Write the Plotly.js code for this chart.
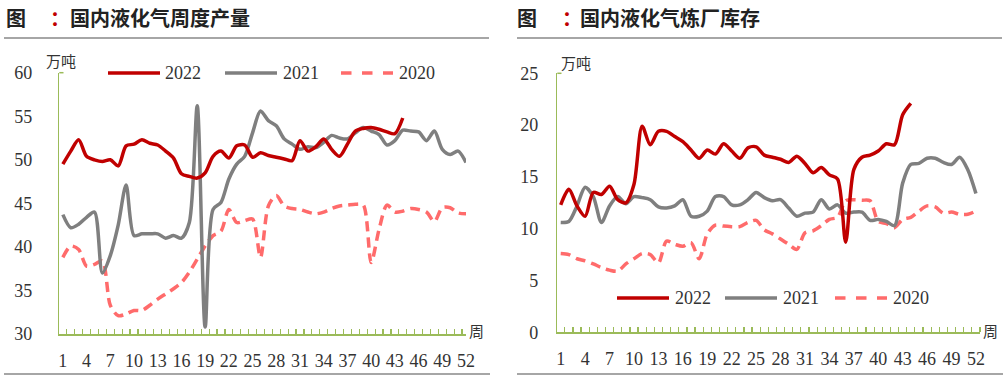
<!DOCTYPE html>
<html><head><meta charset="utf-8">
<script src="https://cdn.plot.ly/plotly-3.0.1.min.js"></script>
<style>body{margin:0;background:#fff}#c{width:1006px;height:380px}</style>
</head><body><div id="c"></div>
<script>
const weeks = Array.from({length:52},(_,i)=>i+1);
const tickWeeks = [1,4,7,10,13,16,19,22,25,28,31,34,37,40,43,46,49,52];
const seriesNames = ['2022','2021','2020'];

const prod2022 = [49.5,51.0,52.3,50.4,50.0,49.8,50.0,49.3,51.6,51.8, 52.3,51.9,51.7,51.0,50.2,48.4,48.1,47.9,48.5,50.4, 51.0,50.2,51.6,51.7,50.3,50.8,50.5,50.3,50.1,49.9, 52.2,51.0,51.5,52.4,51.2,50.4,51.8,53.3,53.6,53.7, 53.5,53.2,53.0,54.8];
const prod2021 = [43.7,42.2,42.6,43.4,44.0,37.0,39.0,42.5,47.1,41.3, 41.5,41.5,41.5,41.0,41.3,41.0,42.8,56.2,30.8,44.3, 45.1,47.8,49.5,50.4,53.1,55.6,54.5,53.9,52.4,51.8, 51.2,51.5,51.4,52.0,52.8,52.5,52.4,53.1,53.7,53.3, 52.9,51.7,52.2,53.4,53.3,53.2,52.2,53.3,51.2,50.6, 51.0,49.7];
const prod2020 = [38.8,40.1,39.7,37.8,38.0,38.4,33.3,32.1,32.3,32.7, 32.7,33.3,34.0,34.6,35.2,35.9,37.1,38.6,40.1,41.3, 41.8,44.3,42.8,43.0,43.2,38.8,44.7,45.9,44.7,44.4, 44.3,44.0,43.8,44.0,44.4,44.7,44.8,44.9,44.8,38.2, 42.0,44.8,44.0,44.1,44.4,44.3,44.0,42.9,44.5,44.5, 43.9,43.8];

const inv2022 = [12.3,13.8,12.2,11.2,13.5,13.3,14.1,12.8,12.5,14.3, 19.9,18.1,19.4,19.4,18.9,18.4,17.6,16.8,17.6,17.2, 18.2,17.5,16.8,17.8,17.9,17.1,16.9,16.7,16.4,17.0, 16.3,15.4,15.9,15.2,14.8,8.7,15.7,16.9,17.1,17.5, 18.2,18.1,21.0,22.1];
const inv2021 = [10.6,10.7,12.2,14.0,13.1,10.6,12.2,13.1,12.4,13.1, 13.0,12.8,12.1,12.0,12.2,12.8,11.2,11.2,11.7,13.1, 13.1,12.3,12.3,12.8,13.5,13.0,12.7,12.8,12.0,11.2, 11.5,11.6,12.8,11.9,12.3,11.5,11.6,11.6,10.8,10.9, 10.7,10.3,14.4,16.2,16.3,16.8,16.8,16.4,16.2,16.9, 15.7,13.4];
const inv2020 = [7.6,7.5,7.1,6.9,6.6,6.25,6.0,5.9,6.6,7.1, 7.6,7.5,6.7,8.8,8.5,8.3,8.65,7.1,9.5,10.35, 10.25,10.2,10.2,10.6,10.8,9.9,9.5,9.0,8.5,8.0, 9.6,9.8,10.3,10.9,11.1,12.7,12.8,12.75,12.7,10.7, 10.5,10.1,10.9,11.1,11.7,12.2,12.1,11.5,11.6,11.4, 11.4,11.7];

const W=1006,H=380;
const px = x=>x/W, py = y=>1-y/H;
const colors = ['#C00000','#7F7F7F','#FF6B6B'];
const dashes = ['solid','solid','10px,6px'];
const green = '#9BBB59';

function tr(y, i, xa, ya){
  return {x: weeks.slice(0,y.length), y: y, xaxis: xa, yaxis: ya, type:'scatter', mode:'lines',
    line:{color:colors[i], width:3.5, dash:dashes[i], shape:'spline', smoothing:0.8},
    showlegend:false, hoverinfo:'skip', cliponaxis:false};
}
const data = [
  tr(prod2020,2,'x','y'), tr(prod2021,1,'x','y'), tr(prod2022,0,'x','y'),
  tr(inv2020,2,'x2','y2'), tr(inv2021,1,'x2','y2'), tr(inv2022,0,'x2','y2')
];

const tickFont = {family:'"Liberation Serif", serif', size:18, color:'#333'};
function xaxis(dom, rng){
  return {domain:dom, range:rng, showgrid:false, zeroline:false, showline:true, linecolor:green, linewidth:1.5,
    tickmode:'array', tickvals:tickWeeks, ticktext:tickWeeks.map(String), ticks:'', tickfont:tickFont,
    ticklabelstandoff:10,
    minor:{tickmode:'linear', tick0:0.5, dtick:1, ticks:'inside', ticklen:5, tickcolor:green, tickwidth:1.2, showgrid:false}};
}
function yaxis(dom, rng, dt, xa, standoff){
  return {domain:dom, range:rng, anchor:xa, dtick:dt, tick0:0, showgrid:false, zeroline:false, showline:true,
    linecolor:green, linewidth:1.5, ticks:'', tickfont:tickFont, ticklabelstandoff:standoff};
}

const layout = {
  width:W, height:H, margin:{l:0,r:0,t:0,b:0}, paper_bgcolor:'#fff', plot_bgcolor:'rgba(0,0,0,0)',
  xaxis: Object.assign(xaxis([px(59.3),px(466)],[0.55,52.0]),{anchor:'y'}),
  yaxis: yaxis([py(334),py(72.7)],[30,60],5,'x',22),
  xaxis2: Object.assign(xaxis([px(557.3),px(980)],[0.58,52.5]),{anchor:'y2'}),
  yaxis2: yaxis([py(332.3),py(73.3)],[0,25],5,'x2',14),
  shapes:[], annotations:[]
};

const cjk = '"Noto Sans CJK SC", sans-serif';
function ann(text,x,y,opts){
  layout.annotations.push(Object.assign({text:text, x:px(x), y:py(y), xref:'paper', yref:'paper', showarrow:false,
    xanchor:'left', yanchor:'middle', font:{family:cjk, size:20, color:'#222', weight:'bold'}}, opts||{}));
}
function line(x0,y0,x1,y1,color,width,dash){
  layout.shapes.push({type:'line', xref:'paper', yref:'paper', x0:px(x0), y0:py(y0), x1:px(x1), y1:py(y1),
    line:{color:color, width:width, dash:dash||'solid'}});
}
// titles
ann('图',4,17); ann('：',48,17,{font:{family:cjk,size:20,color:'#C00000',weight:'bold'}}); ann('国内液化气周度产量',68,17);
ann('图',515,17); ann('：',560,17,{font:{family:cjk,size:20,color:'#C00000',weight:'bold'}}); ann('国内液化气炼厂库存',578,17);
line(4,38,489,38,'#A6A6A6',2); line(517,38,1002,38,'#A6A6A6',2);
line(4,374,490,374,'#A6A6A6',2); line(517,374,1003,374,'#A6A6A6',2);
// unit labels
const small = {family:cjk, size:15, color:'#333'};
ann('万吨',44,61,{font:small}); ann('万吨',559,62,{font:small});
ann('周',467,330,{font:small}); ann('周',981,330,{font:small});
// top ticks on y axes
line(59.3,72.7,63.5,72.7,green,1.5); line(557.3,73.3,561.5,73.3,green,1.5);
// legends
const legFont = {family:'"Liberation Serif", serif', size:18, color:'#333'};
const legL = [[108,160,163],[225,277,281],[341,393,397]];
const legR = [[617,669,673],[725,777,781],[835,887,891]];
function legend(pos, y){
  pos.forEach((p,i)=>{
    line(p[0],y,p[1],y,colors[i],3.5,i===2?'dash':'solid');
    ann(seriesNames[i],p[2],y,{font:legFont});
  });
}
legend(legL,73); legend(legR,298);

Plotly.newPlot('c', data, layout, {staticPlot:true});
</script></body></html>
